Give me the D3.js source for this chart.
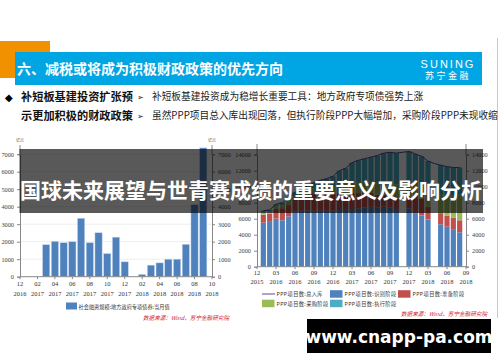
<!DOCTYPE html>
<html lang="zh">
<head>
<meta charset="utf-8">
<title>减税或将成为积极财政政策的优先方向</title>
<script src="https://d3js.org/d3.v7.min.js"></script>
<style>
  body { margin: 0; background: #fff; }
  svg { display: block; }
</style>
</head>
<body>
<svg width="500" height="362"></svg>
<script>
// ---- left chart: 地方政府专项债券 当月值 (亿元)
var leftMonths = ["2016-12","2017-01","2017-02","2017-03","2017-04","2017-05","2017-06","2017-07","2017-08","2017-09","2017-10","2017-11","2017-12",
                  "2018-01","2018-02","2018-03","2018-04","2018-05","2018-06","2018-07","2018-08","2018-09","2018-10"];
var bondValues = [0,0,0,1830,2020,1940,2000,3340,1940,2510,1320,2260,850,0,130,660,790,1000,1000,1850,4110,7360];
var leftTickMonths = ["2016-12","2017-02","2017-04","2017-06","2017-08","2017-10","2017-12","2018-02","2018-04","2018-06","2018-08","2018-10"];
var leftYTicks = [0,1000,2000,3000,4000,5000,6000,7000];

// ---- right chart: PPP项目数 (个)
var rightMonths = ["2015-12","2016-01","2016-02","2016-03","2016-04","2016-05","2016-06","2016-07","2016-08","2016-09","2016-10","2016-11","2016-12",
                   "2017-01","2017-02","2017-03","2017-04","2017-05","2017-06","2017-07","2017-08","2017-09","2017-10","2017-11","2017-12",
                   "2018-01","2018-02","2018-03","2018-04","2018-05","2018-06","2018-07","2018-08","2018-09"];
// values from 2016-01 to 2018-08, null = no data that month
var pppTotal    = [7000,7100,7800,8000,8500,9300,9700,10100,10500,10800,11000,11300,12000,12300,13000,13300,13500,13700,13900,14200,14300,14200,14300,14400,14100,13800,13200,12900,12700,12500,12400,12400];
var pppIdentify = [5500,5600,6000,5800,6300,6900,7000,7000,7000,7000,7000,7000,7100,7100,7200,7300,7400,7500,7400,7500,7400,7200,null,7300,6700,6400,5900,null,5300,5000,4700,4300];
var pppPrepare  = [1000,1000,1200,1500,1400,1500,1700,1900,2100,2100,2100,2100,2100,2100,2000,1900,1800,1700,1600,1500,1400,1400,null,1400,2100,2100,1600,null,1400,1400,1400,1500];
var pppPurchase = [300,300,350,400,450,500,550,600,700,800,900,1000,1100,1200,1300,1400,1500,1500,1600,1600,1700,1700,null,1800,1800,1900,2000,null,2300,2600,2800,3200];
var pppExecute  = [200,200,250,300,350,400,450,600,700,900,1000,1200,1700,1900,2500,2700,2800,3000,3300,3600,3800,3900,null,3900,3500,3400,3700,null,3700,3500,3500,3400];
var rightTickMonths = ["2015-12","2016-03","2016-06","2016-09","2016-12","2017-03","2017-06","2017-09","2017-12","2018-03","2018-06","2018-09"];
var rightYTicks = [0,2000,4000,6000,8000,10000,12000,14000];

var seriesNames = ["PPP项目数:总入库","PPP项目数:识别阶段","PPP项目数:准备阶段","PPP项目数:采购阶段","PPP项目数:执行阶段"];
var seriesColors = ["#5a4a98","#4f81bd","#c0504d","#9bbb59","#4bacc6"];

var cjk = "'Noto Sans CJK SC', sans-serif";
var num = "'Liberation Serif', serif";
var svg = d3.select("svg");

// ---------------- header
svg.append("rect").attr("x",0).attr("y",41).attr("width",50).attr("height",37).attr("fill","#f29100");
svg.append("rect").attr("x",15).attr("y",52).attr("width",467).attr("height",33).attr("fill","#00a6e4");
svg.append("text").attr("x",17).attr("y",74).text("六、减税或将成为积极财政政策的优先方向")
  .style("font-family",cjk).style("font-size","14px").style("font-weight","bold").attr("fill","#fff");
svg.append("text").attr("x",448).attr("y",67.5).attr("text-anchor","middle").text("SUNING")
  .style("font-family","'Liberation Sans', sans-serif").style("font-size","11px").style("letter-spacing","2px").attr("fill","#fff");
svg.append("text").attr("x",448).attr("y",78.5).attr("text-anchor","middle").text("苏宁金融")
  .style("font-family",cjk).style("font-size","9px").style("letter-spacing","2.5px").attr("fill","#fff");
svg.append("line").attr("x1",497.5).attr("x2",497.5).attr("y1",38).attr("y2",318).attr("stroke","#c8c8c8");

var bullets = [
  {y:100.5, head:"补短板基建投资扩张预", body:"补短板基建投资成为稳增长重要工具：地方政府专项债强势上涨", dot:true},
  {y:119.5, head:"示更加积极的财政政策", body:"虽然PPP项目总入库出现回落，但执行阶段PPP大幅增加，采购阶段PPP未现收缩", dot:false}
];
bullets.forEach(function(b){
  if (b.dot) svg.append("text").attr("x",5).attr("y",b.y).text("◆").style("font-family","'DejaVu Sans'").style("font-size","10px");
  svg.append("text").attr("x",21).attr("y",b.y).text(b.head).style("font-family",cjk).style("font-size","11.2px").style("font-weight","bold").attr("fill","#111");
  svg.append("text").attr("x",137).attr("y",b.y-0.5).text("➢").style("font-family","'DejaVu Sans'").style("font-size","8px").attr("fill","#222");
  svg.append("text").attr("x",152).attr("y",b.y-0.5).text(b.body).style("font-family",cjk).style("font-size","9.7px").attr("fill","#222");
});

function styleAxis(g){
  g.select(".domain").attr("stroke","#888");
  g.selectAll(".tick line").attr("stroke","#888");
  g.selectAll(".tick text").style("font-family",num).style("font-size","6.3px").attr("fill","#444");
}

function monthAxis(x, ticks, y0, dy1, dy2){
  var g = svg.append("g");
  ticks.forEach(function(m){
    var px = x(m);
    g.append("line").attr("x1",px).attr("x2",px).attr("y1",y0).attr("y2",y0+2.5).attr("stroke","#888");
    g.append("text").attr("x",px).attr("y",y0+dy1).attr("text-anchor","middle").text(m.slice(5))
      .style("font-family",num).style("font-size","6.5px").attr("fill","#333");
    g.append("text").attr("x",px).attr("y",y0+dy2).attr("text-anchor","middle").text(m.slice(0,4))
      .style("font-family",num).style("font-size","6.5px").attr("fill","#333");
  });
}

// ---------------- left chart
var xL = d3.scalePoint().domain(leftMonths).range([20,212]);
var yL = d3.scaleLinear().domain([0,7000]).range([276.7,154.2]);

svg.append("g").selectAll("line").data(leftYTicks.slice(1)).enter().append("line")
  .attr("x1",20).attr("x2",212).attr("y1",d=>yL(d)).attr("y2",d=>yL(d)).attr("stroke","#eeeeee");

svg.append("g").selectAll("rect").data(bondValues).enter().append("rect")
  .attr("x",(d,i)=>xL(leftMonths[i])-3.6).attr("width",7.2)
  .attr("y",d=>yL(d)).attr("height",d=>yL(0)-yL(d))
  .attr("fill","#4f81bd").attr("stroke","#c5d6ec").attr("stroke-width",0.5);

svg.append("g").attr("transform","translate(20,0)")
  .call(d3.axisLeft(yL).tickValues(leftYTicks).tickSize(3).tickFormat(d3.format("d"))).call(styleAxis);
svg.append("g").attr("transform","translate(212,0)")
  .call(d3.axisRight(yL).tickValues(leftYTicks).tickSize(3).tickFormat(d3.format("d"))).call(styleAxis);
svg.append("line").attr("x1",20).attr("x2",20).attr("y1",145).attr("y2",154).attr("stroke","#888");
svg.append("line").attr("x1",212).attr("x2",212).attr("y1",145).attr("y2",154).attr("stroke","#888");
svg.append("line").attr("x1",20).attr("x2",212).attr("y1",276.7).attr("y2",276.7).attr("stroke","#888");
svg.append("text").attr("x",20).attr("y",142).attr("text-anchor","middle").text("亿元").style("font-family",cjk).style("font-size","4px").attr("fill","#555");
svg.append("text").attr("x",212).attr("y",142).attr("text-anchor","middle").text("亿元").style("font-family",cjk).style("font-size","4px").attr("fill","#555");
monthAxis(xL, leftTickMonths, 276.7, 9.5, 19);

svg.append("rect").attr("x",66).attr("y",302.5).attr("width",11).attr("height",7).attr("fill","#4f81bd");
svg.append("text").attr("x",78.5).attr("y",308.5).text("社会融资规模:地方政府专项债券:当月值")
  .style("font-family",cjk).style("font-size","5.2px").attr("fill","#333");
svg.append("text").attr("x",229).attr("y",320).attr("text-anchor","end").text("数据来源：Wind，苏宁金融研究院")
  .style("font-family",cjk).style("font-size","5.6px").style("font-style","italic").attr("fill","#d0202a");

// ---------------- right chart
var xR = d3.scalePoint().domain(rightMonths).range([257,466]);
var yR = d3.scaleLinear().domain([0,14000]).range([266.7,154.7]);
var dataMonths = rightMonths.slice(1,33);
var stackRows = dataMonths.map(function(m,i){
  return {m:m, v:[pppIdentify[i],pppPrepare[i],pppPurchase[i],pppExecute[i]]};
});

var gBars = svg.append("g");
stackRows.forEach(function(r){
  if (r.v[0] === null) return;
  var base = 0;
  r.v.forEach(function(v,k){
    gBars.append("rect").attr("x",xR(r.m)-2.6).attr("width",5.2)
      .attr("y",yR(base+v)).attr("height",yR(base)-yR(base+v)).attr("fill",seriesColors[k+1]);
    base += v;
  });
});

svg.append("path").datum(pppTotal)
  .attr("d",d3.line().x((d,i)=>xR(dataMonths[i])).y(d=>yR(d)))
  .attr("fill","none").attr("stroke",seriesColors[0]).attr("stroke-width",1);

svg.append("g").attr("transform","translate(257,0)")
  .call(d3.axisLeft(yR).tickValues(rightYTicks).tickSize(3).tickFormat(d3.format("d"))).call(styleAxis);
svg.append("g").attr("transform","translate(466,0)")
  .call(d3.axisRight(yR).tickValues(rightYTicks).tickSize(3).tickFormat(d3.format("d"))).call(styleAxis);
svg.append("line").attr("x1",257).attr("x2",257).attr("y1",144).attr("y2",155).attr("stroke","#888");
svg.append("line").attr("x1",466).attr("x2",466).attr("y1",144).attr("y2",155).attr("stroke","#888");
svg.append("line").attr("x1",257).attr("x2",466).attr("y1",266.7).attr("y2",266.7).attr("stroke","#888");
monthAxis(xR, rightTickMonths, 266.7, 8.5, 17.5);

var legendItems = [
  {i:0, x:262, y:294, line:true},
  {i:1, x:330, y:294},
  {i:2, x:398, y:294},
  {i:3, x:262, y:303.5},
  {i:4, x:330, y:303.5}
];
legendItems.forEach(function(l){
  if (l.line) svg.append("line").attr("x1",l.x).attr("x2",l.x+13).attr("y1",l.y).attr("y2",l.y).attr("stroke",seriesColors[l.i]).attr("stroke-width",1);
  else svg.append("rect").attr("x",l.x).attr("y",l.y-3.8).attr("width",12.5).attr("height",7.5).attr("fill",seriesColors[l.i]);
  svg.append("text").attr("x",l.x+14.5).attr("y",l.y+2).text(seriesNames[l.i])
    .style("font-family",cjk).style("font-size","5.2px").style("letter-spacing","0.4px").attr("fill","#333");
});
svg.append("text").attr("x",487).attr("y",315.5).attr("text-anchor","end").text("数据来源：Wind，苏宁金融研究院")
  .style("font-family",cjk).style("font-size","5.6px").style("font-style","italic").attr("fill","#d0202a");

// ---------------- overlay banner + watermark
svg.append("rect").attr("x",19.5).attr("y",149).attr("width",463.5).attr("height",64).attr("fill","rgba(0,0,0,0.65)");
svg.append("text").attr("x",20).attr("y",197.5).text("国球未来展望与世青赛成绩的重要意义及影响分析")
  .style("font-family",cjk).style("font-size","21px").style("font-weight","bold").attr("fill","#fff");

svg.append("rect").attr("x",307).attr("y",319).attr("width",184).attr("height",34).attr("fill","#000");
svg.append("text").attr("x",399).attr("y",342.5).attr("text-anchor","middle").text("www.cnapp-pa.com")
  .style("font-family","'DejaVu Sans', sans-serif").style("font-size","17px").style("font-weight","bold").attr("fill","#fff");
</script>
</body>
</html>
